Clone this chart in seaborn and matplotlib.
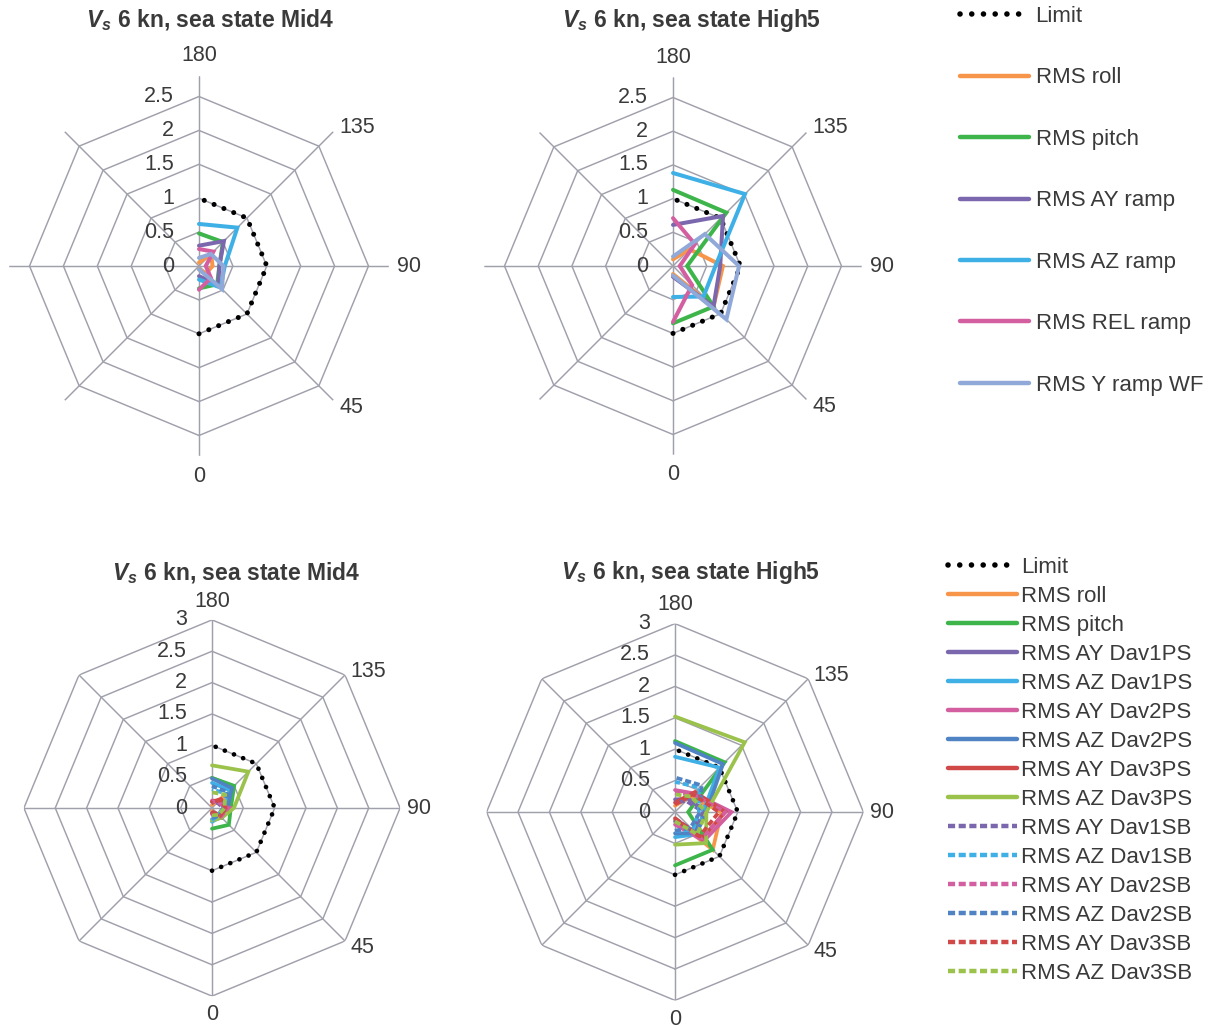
import numpy as np
import pandas as pd
import seaborn as sns
import matplotlib.pyplot as plt
from matplotlib.lines import Line2D

# headings in degrees (0 = following seas, 180 = head seas)
headings = [0, 45, 90, 135, 180]
limit = [1, 1, 1, 1, 1]

# motions shared by both panels of the same sea state
roll_mid4 = [0.05, 0.15, 0.2, 0.25, 0.05]
pitch_mid4 = [0.33, 0.38, 0.3, 0.5, 0.48]
roll_high5 = [0.12, 0.85, 0.74, 0.35, 0.1]
pitch_high5 = [0.85, 0.85, 0.21, 1.12, 1.13]

# ramp accelerations
ay_ramp_mid4 = [0.15, 0.4, 0.3, 0.52, 0.3]
az_ramp_mid4 = [0.2, 0.45, 0.38, 0.8, 0.62]
rel_ramp_mid4 = [0.35, 0.25, 0.1, 0.3, 0.25]
y_wf_mid4 = [0.05, 0.48, 0.36, 0.25, 0.12]

ay_ramp_high5 = [0.16, 0.85, 0.7, 1.05, 0.61]
az_ramp_high5 = [0.46, 0.64, 0.63, 1.51, 1.38]
rel_ramp_high5 = [0.83, 0.4, 0.1, 0.46, 0.71]
y_wf_high5 = [0.14, 1.12, 0.98, 0.67, 0.14]

# davit accelerations
ay1ps_mid4 = [0.08, 0.15, 0.2, 0.15, 0.1]
az1ps_mid4 = [0.22, 0.2, 0.2, 0.4, 0.4]
ay2ps_mid4 = [0.1, 0.22, 0.3, 0.15, 0.12]
az2ps_mid4 = [0.18, 0.22, 0.25, 0.45, 0.47]
ay3ps_mid4 = [0.08, 0.2, 0.25, 0.2, 0.1]
az3ps_mid4 = [0.2, 0.22, 0.35, 0.82, 0.68]
ay1sb_mid4 = [0.06, 0.14, 0.18, 0.12, 0.08]
az1sb_mid4 = [0.2, 0.15, 0.18, 0.32, 0.3]
ay2sb_mid4 = [0.08, 0.2, 0.26, 0.13, 0.1]
az2sb_mid4 = [0.16, 0.17, 0.2, 0.36, 0.35]
ay3sb_mid4 = [0.06, 0.18, 0.22, 0.18, 0.08]
az3sb_mid4 = [0.12, 0.15, 0.2, 0.3, 0.25]

ay1ps_high5 = [0.15, 0.45, 0.5, 0.3, 0.2]
az1ps_high5 = [0.4, 0.5, 0.45, 1.0, 0.88]
ay2ps_high5 = [0.2, 0.65, 0.9, 0.42, 0.35]
az2ps_high5 = [0.34, 0.48, 0.5, 1.08, 1.1]
ay3ps_high5 = [0.1, 0.6, 0.8, 0.45, 0.15]
az3ps_high5 = [0.52, 0.7, 0.5, 1.57, 1.52]
ay1sb_high5 = [0.12, 0.4, 0.45, 0.25, 0.15]
az1sb_high5 = [0.3, 0.4, 0.38, 0.55, 0.48]
ay2sb_high5 = [0.15, 0.6, 0.8, 0.4, 0.3]
az2sb_high5 = [0.3, 0.35, 0.4, 0.6, 0.55]
ay3sb_high5 = [0.1, 0.55, 0.7, 0.4, 0.12]
az3sb_high5 = [0.15, 0.5, 0.5, 0.35, 0.28]

ramp_labels = ['Limit', 'RMS roll', 'RMS pitch', 'RMS AY ramp', 'RMS AZ ramp',
               'RMS REL ramp', 'RMS Y ramp WF']
davit_labels = ['Limit', 'RMS roll', 'RMS pitch',
                'RMS AY Dav1PS', 'RMS AZ Dav1PS', 'RMS AY Dav2PS', 'RMS AZ Dav2PS',
                'RMS AY Dav3PS', 'RMS AZ Dav3PS',
                'RMS AY Dav1SB', 'RMS AZ Dav1SB', 'RMS AY Dav2SB', 'RMS AZ Dav2SB',
                'RMS AY Dav3SB', 'RMS AZ Dav3SB']

ramp_mid4 = [limit, roll_mid4, pitch_mid4, ay_ramp_mid4, az_ramp_mid4, rel_ramp_mid4, y_wf_mid4]
ramp_high5 = [limit, roll_high5, pitch_high5, ay_ramp_high5, az_ramp_high5, rel_ramp_high5, y_wf_high5]
davit_mid4 = [limit, roll_mid4, pitch_mid4, ay1ps_mid4, az1ps_mid4, ay2ps_mid4, az2ps_mid4,
              ay3ps_mid4, az3ps_mid4, ay1sb_mid4, az1sb_mid4, ay2sb_mid4, az2sb_mid4,
              ay3sb_mid4, az3sb_mid4]
davit_high5 = [limit, roll_high5, pitch_high5, ay1ps_high5, az1ps_high5, ay2ps_high5, az2ps_high5,
               ay3ps_high5, az3ps_high5, ay1sb_high5, az1sb_high5, ay2sb_high5, az2sb_high5,
               ay3sb_high5, az3sb_high5]

ORANGE, GREEN, PURPLE, CYAN = '#f7964a', '#3db54a', '#7b67ad', '#3fb0e6'
PINK, STEEL, BLUE, RED, LIME = '#d35fa0', '#90a9d8', '#4f83c4', '#d04848', '#9bc24a'
GRID = '#9fa0ab'
TXT = '#3a3a3a'

DOT = (0, (0.01, 2.1))
DASH = (0, (1.6, 0.8))
ramp_styles = [('black', DOT), (ORANGE, '-'), (GREEN, '-'), (PURPLE, '-'),
               (CYAN, '-'), (PINK, '-'), (STEEL, '-')]
davit_styles = [('black', DOT), (ORANGE, '-'), (GREEN, '-'),
                (PURPLE, '-'), (CYAN, '-'), (PINK, '-'), (BLUE, '-'), (RED, '-'), (LIME, '-'),
                (PURPLE, DASH), (CYAN, DASH), (PINK, DASH), (BLUE, DASH), (RED, DASH), (LIME, DASH)]

sns.set_theme(style='white')
plt.rcParams['font.family'] = ['Liberation Sans', 'DejaVu Sans']
plt.rcParams['mathtext.fontset'] = 'custom'
plt.rcParams['mathtext.rm'] = 'Liberation Sans'
plt.rcParams['mathtext.it'] = 'Liberation Sans:italic'
plt.rcParams['mathtext.bf'] = 'Liberation Sans:bold'
try:
    plt.rcParams['mathtext.bfit'] = 'Liberation Sans:italic:bold'
    VS = r'$\mathbfit{V}_{\mathbfit{s}}$'
except KeyError:
    VS = r'$\mathbf{V}_{\mathbf{s}}$'

W, H = 1216, 1030
fig = plt.figure(figsize=(W / 100, H / 100), dpi=100)

# nudges (points) that mimic where the spreadsheet put the diagonal labels
label_nudge = {135: (7, -7), 45: (3, 5)}


def line_kws(ls, lw):
    if ls == DOT:
        return dict(linestyle=ls, lw=lw * 1.25, dash_capstyle='round')
    if ls == DASH:
        return dict(linestyle=ls, lw=lw, dash_capstyle='butt')
    return dict(linestyle=ls, lw=lw, solid_capstyle='round')


def radar(center, unit, rmax, rings, label_r, title, title_xy, labels, data, styles, lw):
    cx, cy = center
    half = rmax * unit
    ax = fig.add_axes([(cx - half) / W, (H - cy - half) / H, 2 * half / W, 2 * half / H],
                      projection='polar')
    ax.set_theta_zero_location('S')
    ax.set_theta_direction(1)
    ax.grid(False)
    ax.set_xticks([])
    ax.set_yticks([])
    ax.spines['polar'].set_visible(False)
    ax.patch.set_alpha(0)

    spokes = np.deg2rad(np.arange(0, 360, 45))
    ring_t = np.append(spokes, spokes[0])
    for r in rings[1:]:
        ax.plot(ring_t, [r] * len(ring_t), color=GRID, lw=1.05, zorder=1)
    for t in spokes:
        ax.plot([t, t], [0, rmax], color=GRID, lw=1.05, zorder=1)
    ax.set_ylim(0, rmax)

    for r in rings:
        ax.annotate(f'{r:g}', xy=(np.pi, r), xytext=(-18, 0), textcoords='offset points',
                    ha='right', va='center', fontsize=15.5, color=TXT, zorder=2)
    for h in headings:
        ax.annotate(str(h), xy=(np.deg2rad(h), label_r), xytext=label_nudge.get(h, (0, 0)),
                    textcoords='offset points', ha='center', va='center',
                    fontsize=15.5, color=TXT, annotation_clip=False)

    theta = np.deg2rad(headings)
    for i, (lab, vals, (col, ls)) in enumerate(zip(labels, data, styles)):
        df = pd.DataFrame({'theta': theta, 'value': vals})
        sns.lineplot(data=df, x='theta', y='value', ax=ax, color=col, sort=False,
                     legend=False, zorder=3 + i * 0.01, solid_joinstyle='miter',
                     **line_kws(ls, lw))
    ax.set_xlabel('')
    ax.set_ylabel('')
    ax.set_ylim(0, rmax)

    fig.text(title_xy[0] / W, 1 - title_xy[1] / H, VS + ' 6 kn, sea state ' + title,
             ha='center', va='center', fontsize=16.5, fontweight='bold', color=TXT)


top_rings = [0, 0.5, 1, 1.5, 2, 2.5]
bot_rings = [0, 0.5, 1, 1.5, 2, 2.5, 3]
radar((199, 266), 67.8, 2.8, top_rings, 3.1, 'Mid4', (210, 20), ramp_labels, ramp_mid4, ramp_styles, 2.9)
radar((673, 266), 67.4, 2.8, top_rings, 3.1, 'High5', (692, 20), ramp_labels, ramp_high5, ramp_styles, 2.9)
radar((212, 808), 62.7, 3.0, bot_rings, 3.3, 'Mid4', (236, 573), davit_labels, davit_mid4, davit_styles, 2.7)
radar((675, 812), 62.8, 3.0, bot_rings, 3.3, 'High5', (691, 572), davit_labels, davit_high5, davit_styles, 2.7)


def handles(styles, lw):
    return [Line2D([], [], color=c, **line_kws(ls, lw)) for c, ls in styles]


fig.legend(handles(ramp_styles, 3.2), ramp_labels, loc='upper left',
           bbox_to_anchor=(960 / W, 1 - 6 / H), frameon=False, borderpad=0, borderaxespad=0,
           handlelength=3.1, handletextpad=0.3, labelspacing=1.82,
           prop={'size': 16}, labelcolor=TXT)
fig.legend(handles(davit_styles, 3.2), davit_labels, loc='upper left',
           bbox_to_anchor=(948 / W, 1 - 557 / H), frameon=False, borderpad=0, borderaxespad=0,
           handlelength=3.1, handletextpad=0.2, labelspacing=0.36,
           prop={'size': 16}, labelcolor=TXT)

fig.savefig('out.png', dpi=100, facecolor='white')
